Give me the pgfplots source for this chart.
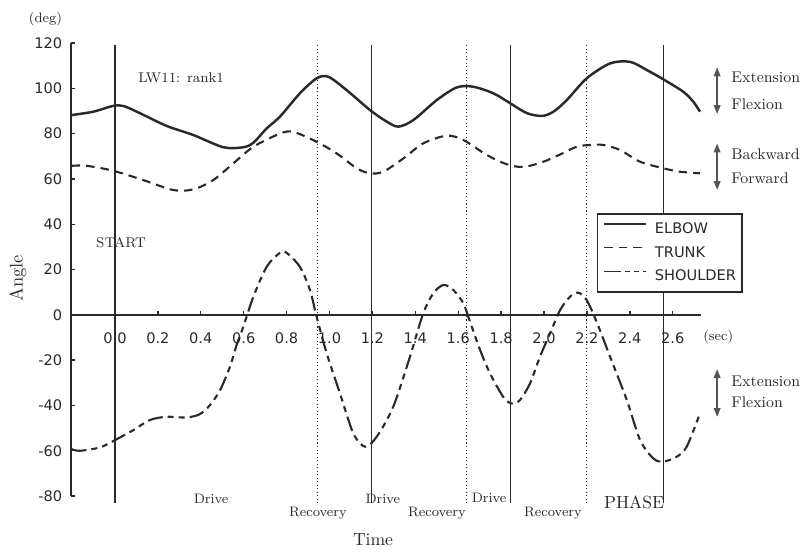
\documentclass[border=0pt]{standalone}
\usepackage{fontspec}
\usepackage{pgfplots}
\pgfplotsset{compat=1.18}
\usetikzlibrary{arrows.meta}
\newfontfamily\sansf{DejaVu Sans}
\definecolor{ink}{HTML}{2A2A2A}
\definecolor{arr}{HTML}{555555}
\begin{document}
\begin{tikzpicture}
\begin{axis}[
  x=4.29cm, y=0.0453cm,
  xmin=-0.205, xmax=2.732, ymin=-80, ymax=120,
  axis x line=middle, axis y line=left,
  axis line style={-, line width=0.85pt, ink},
  hide obscured x ticks=false, hide obscured y ticks=false,
  clip=false,
  xtick={0,0.2,0.4,0.6,0.8,1.0,1.2,1.4,1.6,1.8,2.0,2.2,2.4,2.6},
  ytick={-80,-60,-40,-20,0,20,40,60,80,100,120},
  tick align=inside,
  major tick length=0.085cm,
  tick style={line width=0.8pt, ink},
  ticklabel style={font=\sansf\fontsize{8.3}{10}\selectfont, text=ink},
  /pgf/number format/assume math mode=true,
  xticklabel style={anchor=base, yshift=-0.57cm, inner sep=0pt,
    /pgf/number format/.cd, fixed, fixed zerofill, precision=1},
  yticklabel style={anchor=east, inner sep=0pt, xshift=-0.17cm},
  legend style={at={(axis cs:2.247,44.9)}, anchor=north west, draw=ink,
    line width=0.85pt, fill=white, inner xsep=0.12cm, inner ysep=0.17cm,
    font=\sansf\fontsize{8.3}{10}\selectfont, text=ink, row sep=0.21cm,
    nodes={inner sep=0pt},
    /tikz/every odd column/.append style={column sep=0.16cm}},
  legend cell align=left,
  legend image code/.code={\draw[#1] (0cm,0.105cm) -- (0.84cm,0.105cm);},
]
\addlegendimage{ink, line width=0.7pt}
\addlegendentry{ELBOW}
\addlegendimage{ink, line width=0.7pt, dash pattern=on 0.17cm off 0.12cm}
\addlegendentry{TRUNK}
\addlegendimage{ink, line width=0.7pt, dash pattern=on 0.34cm off 0.08cm on 0.1cm off 0.08cm on 0.1cm off 0.08cm}
\addlegendentry{SHOULDER}

% phase lines
\addplot[ink, line width=0.6pt, forget plot] coordinates {(0,119) (0,-83)};
\addplot[ink, line width=0.6pt, forget plot] coordinates {(1.195,119) (1.195,-83)};
\addplot[ink, line width=0.6pt, forget plot] coordinates {(1.845,119) (1.845,-83)};
\addplot[ink, line width=0.6pt, forget plot] coordinates {(2.556,119) (2.556,-83)};
\addplot[ink, line width=0.5pt, dash pattern=on 0.6pt off 1.4pt, forget plot] coordinates {(0.943,119) (0.943,-83)};
\addplot[ink, line width=0.5pt, dash pattern=on 0.6pt off 1.4pt, forget plot] coordinates {(1.638,119) (1.638,-83)};
\addplot[ink, line width=0.5pt, dash pattern=on 0.6pt off 1.4pt, forget plot] coordinates {(2.2,119) (2.2,-83)};

% elbow
\addplot[ink, line width=1.4pt, smooth, tension=0.5, forget plot] coordinates {
(-0.202,88.2) (-0.101,89.7) (-0.01,92.2) (0.04,92.2) (0.117,89) (0.241,83.4)
(0.365,79.4) (0.505,74) (0.598,74) (0.645,76) (0.707,82.3) (0.769,87.5)
(0.862,97.8) (0.940,104.4) (0.995,105.1) (1.08,99.2) (1.189,90.4) (1.267,85.3)
(1.321,83.1) (1.391,86) (1.5,94.8) (1.593,100.4) (1.670,100.7) (1.764,97.8)
(1.841,93.5) (1.919,89.1) (1.99,87.8) (2.044,89.7) (2.106,94.8) (2.199,104.4)
(2.308,111) (2.401,111.7) (2.479,108.1) (2.556,104) (2.649,98.5) (2.696,94.1)
(2.727,89.7)};

% trunk
\addplot[ink, line width=1.2pt, smooth, tension=0.5, dash pattern=on 0.17cm off 0.12cm, forget plot] coordinates {
(-0.202,65.8) (-0.132,65.8) (-0.008,63.6) (0.132,59.5) (0.272,55.1) (0.365,55.4)
(0.458,59.5) (0.552,66.9) (0.645,74.2) (0.769,80) (0.831,80.8) (0.94,76.4)
(1.033,71.3) (1.127,64.7) (1.189,62.5) (1.251,63.2) (1.345,69.1) (1.437,75.7)
(1.546,79.1) (1.624,77.2) (1.733,70.6) (1.826,66.5) (1.904,65.3) (1.997,67.6)
(2.075,70.8) (2.152,74.2) (2.214,75) (2.277,75) (2.354,72.8) (2.448,67.6)
(2.556,64.7) (2.634,63.2) (2.727,62.5)};

% shoulder
\addplot[ink, line width=1.2pt, smooth, tension=0.5, dash pattern=on 0.3cm off 0.1cm on 0.12cm off 0.1cm on 0.12cm off 0.1cm, forget plot] coordinates {
(-0.202,-59.3) (-0.163,-60) (-0.07,-58.5) (0,-55.3) (0.085,-50.9) (0.163,-46.4)
(0.241,-45) (0.334,-45.3) (0.396,-43.8) (0.443,-39.8) (0.49,-33.2) (0.536,-22.9)
(0.567,-13.3) (0.598,-5.3) (0.645,8) (0.707,21.2) (0.769,27.4) (0.8,27.4)
(0.862,21.2) (0.909,11) (0.94,-0.8) (0.987,-17) (1.049,-34.7) (1.111,-52.3)
(1.166,-58.2) (1.22,-53.8) (1.297,-40.6) (1.375,-18.5) (1.437,0.7) (1.484,9.5)
(1.531,13.2) (1.577,11) (1.624,5.1) (1.655,-3) (1.702,-15.5) (1.748,-25.8)
(1.81,-36.2) (1.849,-39.1) (1.888,-37.6) (1.935,-30.2) (1.981,-18.5) (2.028,-8.2)
(2.075,2.1) (2.121,8) (2.16,9.8) (2.199,6.5) (2.245,-3) (2.308,-18.5)
(2.386,-37.6) (2.448,-55.3) (2.51,-63.4) (2.556,-64.8) (2.619,-62.6) (2.665,-58.2)
(2.727,-43.5)};

% arrows
\draw[arr, line width=1.1pt, {Triangle[width=0.13cm,length=0.18cm]}-{Triangle[width=0.13cm,length=0.18cm]}] (axis cs:2.807,109.3) -- (axis cs:2.807,88.6);
\draw[arr, line width=1.1pt, {Triangle[width=0.13cm,length=0.18cm]}-{Triangle[width=0.13cm,length=0.18cm]}] (axis cs:2.807,75.7) -- (axis cs:2.807,55.1);
\draw[arr, line width=1.1pt, {Triangle[width=0.13cm,length=0.18cm]}-{Triangle[width=0.13cm,length=0.18cm]}] (axis cs:2.807,-23.9) -- (axis cs:2.807,-45.1);

% texts
\begin{scope}[every node/.style={text=ink, inner sep=0pt}]
\node[anchor=base east, xshift=-0.17cm, font=\fontsize{7.8}{9}\selectfont] at (axis cs:-0.205,129) {(deg)};
\node[anchor=base west, font=\fontsize{8}{10}\selectfont] at (axis cs:0.107,102.5) {LW11: rank1};
\node[anchor=base west, font=\fontsize{8}{10}\selectfont] at (axis cs:-0.089,29.9) {START};
\node[anchor=base west, font=\fontsize{7.8}{9}\selectfont] at (axis cs:2.741,-11.4) {(sec)};
\node[rotate=90, font=\fontsize{10.5}{12}\selectfont] at (axis cs:-0.452,16.2) {Angle};
\node[anchor=base, font=\fontsize{7.8}{9}\selectfont] at (axis cs:0.448,-83.2) {Drive};
\node[anchor=base, font=\fontsize{7.8}{9}\selectfont] at (axis cs:1.249,-83.2) {Drive};
\node[anchor=base, font=\fontsize{7.8}{9}\selectfont] at (axis cs:1.744,-83.0) {Drive};
\node[anchor=base, font=\fontsize{7.8}{9}\selectfont] at (axis cs:0.946,-88.8) {Recovery};
\node[anchor=base, font=\fontsize{7.8}{9}\selectfont] at (axis cs:1.501,-88.8) {Recovery};
\node[anchor=base, font=\fontsize{7.8}{9}\selectfont] at (axis cs:2.042,-88.8) {Recovery};
\node[anchor=base, font=\fontsize{10}{12}\selectfont] at (axis cs:2.42,-85.3) {PHASE};
\node[anchor=base, font=\fontsize{10}{12}\selectfont] at (axis cs:1.203,-101.6) {Time};
\node[anchor=base west, font=\fontsize{8.8}{10}\selectfont] at (axis cs:2.872,102.5) {Extension};
\node[anchor=base west, font=\fontsize{8.8}{10}\selectfont] at (axis cs:2.872,90.7) {Flexion};
\node[anchor=base west, font=\fontsize{8.8}{10}\selectfont] at (axis cs:2.872,68.7) {Backward};
\node[anchor=base west, font=\fontsize{8.8}{10}\selectfont] at (axis cs:2.872,58.0) {Forward};
\node[anchor=base west, font=\fontsize{8.8}{10}\selectfont] at (axis cs:2.872,-31.7) {Extension};
\node[anchor=base west, font=\fontsize{8.8}{10}\selectfont] at (axis cs:2.872,-40.8) {Flexion};
\end{scope}
\coordinate (bbA) at (axis cs:-0.536,139.0);
\coordinate (bbB) at (axis cs:3.212,-104.3);
\end{axis}
\pgfresetboundingbox
\useasboundingbox (bbA) rectangle (bbB);
\end{tikzpicture}
\end{document}
